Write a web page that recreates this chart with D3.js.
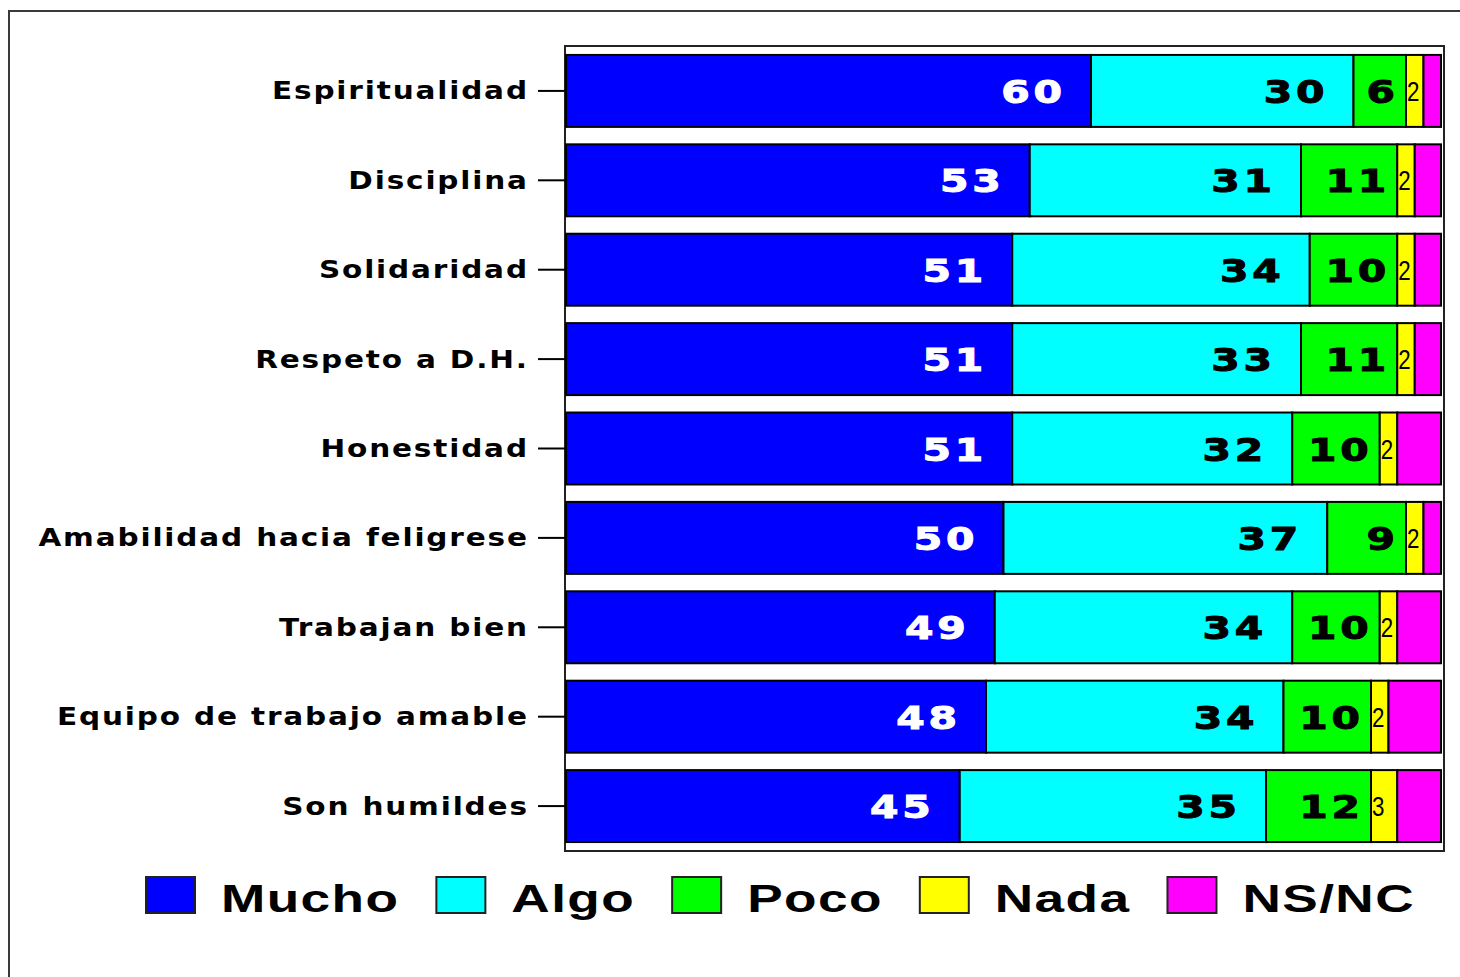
<!DOCTYPE html>
<html>
<head>
<meta charset="utf-8">
<script src="https://cdn.jsdelivr.net/npm/d3@7"></script>
<style>
  body { margin: 0; background: #fff; }
  svg { display: block; }
</style>
</head>
<body>
<script>
// data (percent)
const categories = ["Espiritualidad", "Disciplina", "Solidaridad", "Respeto a D.H.", "Honestidad",
  "Amabilidad hacia feligrese", "Trabajan bien", "Equipo de trabajo amable", "Son humildes"];
const seriesNames = ["Mucho", "Algo", "Poco", "Nada", "NS/NC"];
const mucho = [60, 53, 51, 51, 51, 50, 49, 48, 45];
const algo  = [30, 31, 34, 33, 32, 37, 34, 34, 35];
const poco  = [6, 11, 10, 11, 10, 9, 10, 10, 12];
const nada  = [2, 2, 2, 2, 2, 2, 2, 2, 3];
const nsnc  = [2, 3, 3, 3, 5, 2, 5, 6, 5];
const colors = ["#0000ff", "#00ffff", "#00ff00", "#ffff00", "#ff00ff"];

const width = 1460, height = 977;
const plot = {left: 565, top: 46, right: 1444, bottom: 851};

const rows = categories.map((c, i) => ({
  cat: c, Mucho: mucho[i], Algo: algo[i], Poco: poco[i], Nada: nada[i], "NS/NC": nsnc[i]
}));
const stacked = d3.stack().keys(seriesNames)(rows);

const x = d3.scaleLinear().domain([0, 100]).range([plot.left + 1, plot.left + 876]);
const y = d3.scaleBand().domain(categories).range([plot.top, plot.bottom])
  .paddingInner(0.195).paddingOuter(0.1);
const color = d3.scaleOrdinal(seriesNames, colors);

const svg = d3.select("body").append("svg")
  .attr("width", width).attr("height", height);

// outer frame (open on right / bottom like the source)
svg.append("rect")
  .attr("x", 9).attr("y", 11).attr("width", 1600).attr("height", 1100)
  .attr("fill", "#fff").attr("stroke", "#3a3a3a").attr("stroke-width", 2);

// plot area
svg.append("rect")
  .attr("x", plot.left).attr("y", plot.top)
  .attr("width", plot.right - plot.left).attr("height", plot.bottom - plot.top)
  .attr("fill", "#fff").attr("stroke", "#222").attr("stroke-width", 2);

// bars
const layer = svg.append("g")
  .selectAll("g")
  .data(stacked)
  .join("g")
    .attr("fill", d => color(d.key));

layer.selectAll("rect")
  .data(d => d)
  .join("rect")
    .attr("x", d => x(d[0]))
    .attr("y", d => y(d.data.cat))
    .attr("width", d => x(d[1]) - x(d[0]))
    .attr("height", y.bandwidth())
    .attr("stroke", "#000")
    .attr("stroke-width", 2);

// big bold value labels: Mucho, Algo, Poco
const labelPad = {Mucho: 29, Algo: 29, Poco: 11};
const valScale = 1.28, valSpacing = 3;
stacked.filter(s => labelPad[s.key] !== undefined).forEach(s => {
  svg.append("g").selectAll("text")
    .data(s)
    .join("text")
      .attr("transform", d => `translate(${x(d[1]) - labelPad[s.key]},${y(d.data.cat) + y.bandwidth() / 2 + 12}) scale(${valScale},1)`)
      .attr("x", valSpacing)
      .attr("text-anchor", "end")
      .style("font-family", "'DejaVu Sans'")
      .style("font-weight", "bold")
      .style("font-size", "32px")
      .style("letter-spacing", valSpacing + "px")
      .attr("fill", s.key === "Mucho" ? "#fff" : "#000")
      .attr("stroke", s.key === "Mucho" ? "#fff" : "#000")
      .attr("stroke-width", 1)
      .text(d => d.data[s.key]);
});

// small Nada labels
svg.append("g").selectAll("text")
  .data(stacked[3])
  .join("text")
    .attr("transform", d => `translate(${x(d[0]) + 1},${y(d.data.cat) + y.bandwidth() / 2 + 10}) scale(0.8,1)`)
    .style("font-family", "'Liberation Sans'")
    .style("font-size", "28px")
    .attr("fill", "#000")
    .text(d => d.data.Nada);

// category axis
const catScale = 1.23, catSpacing = 1.5;
const yAxis = svg.append("g")
  .attr("transform", `translate(${plot.left},0)`)
  .call(d3.axisLeft(y).tickSize(27).tickPadding(11));
yAxis.select(".domain").remove();
yAxis.selectAll(".tick line").attr("stroke", "#000").attr("stroke-width", 2);
yAxis.selectAll(".tick text")
  .attr("x", -38 / catScale + catSpacing)
  .attr("dy", null)
  .attr("y", 8.5)
  .attr("transform", `scale(${catScale},1)`)
  .attr("fill", "#000")
  .style("font-family", "'DejaVu Sans'")
  .style("font-weight", "bold")
  .style("font-size", "24px")
  .style("letter-spacing", catSpacing + "px");

// legend
const legScale = 1.4;
const legend = svg.append("g");
let lx = 146;
seriesNames.forEach(name => {
  legend.append("rect")
    .attr("x", lx).attr("y", 877).attr("width", 49).attr("height", 36)
    .attr("fill", color(name)).attr("stroke", "#222").attr("stroke-width", 2);
  const t = legend.append("text")
    .attr("transform", `translate(${lx + 75},912) scale(${legScale},1)`)
    .style("font-family", "'Liberation Sans'")
    .style("font-weight", "bold")
    .style("font-size", "38px")
    .style("letter-spacing", "1px")
    .attr("fill", "#000")
    .text(name);
  lx = lx + 75 + t.node().getComputedTextLength() * legScale + 37;
});
</script>
</body>
</html>
